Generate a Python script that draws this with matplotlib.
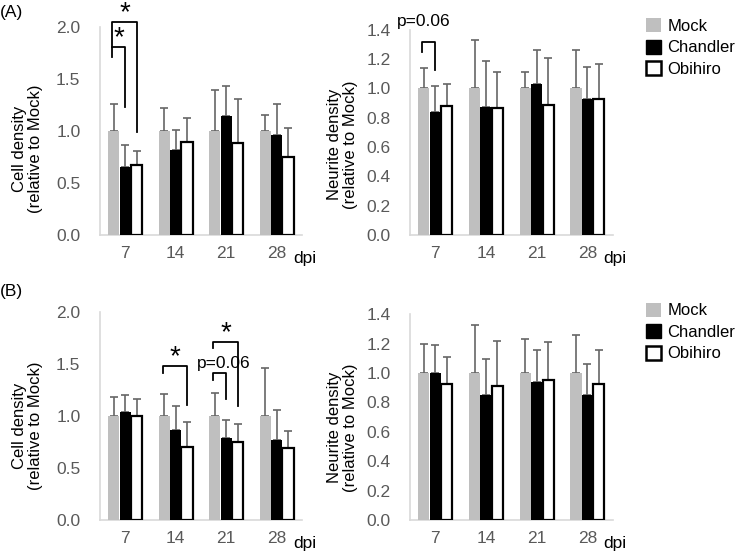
import numpy as np
import matplotlib.pyplot as plt
from matplotlib.patches import Patch

plt.rcParams['font.family'] = ['Liberation Sans', 'DejaVu Sans']

# datos
dpi_labels = ['7', '14', '21', '28']
groups = ['Mock', 'Chandler', 'Obihiro']

# (A) densidad celular
cellA_mean = [[1.0, 1.0, 1.0, 1.0],
              [0.65, 0.82, 1.14, 0.96],
              [0.67, 0.89, 0.885, 0.75]]
cellA_top = [[1.26, 1.22, 1.39, 1.15],
             [0.86, 1.01, 1.43, 1.26],
             [0.81, 1.12, 1.31, 1.03]]

# (A) densidad de neuritas
neurA_mean = [[1.0, 1.0, 1.0, 1.0],
              [0.84, 0.875, 1.03, 0.925],
              [0.88, 0.87, 0.885, 0.93]]
neurA_top = [[1.14, 1.33, 1.115, 1.26],
             [1.015, 1.19, 1.26, 1.15],
             [1.03, 1.115, 1.21, 1.17]]

# (B) densidad celular
cellB_mean = [[1.0, 1.0, 1.0, 1.0],
              [1.04, 0.86, 0.785, 0.77],
              [1.0, 0.70, 0.75, 0.69]]
cellB_top = [[1.18, 1.21, 1.22, 1.46],
             [1.20, 1.09, 0.96, 1.06],
             [1.16, 0.945, 0.92, 0.85]]

# (B) densidad de neuritas
neurB_mean = [[1.0, 1.0, 1.0, 1.0],
              [1.0, 0.85, 0.94, 0.85],
              [0.925, 0.91, 0.95, 0.925]]
neurB_top = [[1.20, 1.325, 1.23, 1.26],
             [1.19, 1.095, 1.155, 1.06],
             [1.11, 1.215, 1.21, 1.155]]

# corchetes: (grupo dpi, barra izq, barra der, y izq, y horiz, y der, texto)
bracketsA = [(0, 0, 1, 1.715, 1.81, 1.23, '*'),
             (0, 0, 2, 1.81, 2.05, 0.99, '*')]
bracketsA_neur = [(0, 0, 1, 1.25, 1.315, 1.125, 'p=0.06')]
bracketsB = [(1, 0, 2, 1.41, 1.48, 1.10, '*'),
             (2, 0, 1, 1.345, 1.41, 1.165, 'p=0.06'),
             (2, 0, 2, 1.65, 1.71, 1.095, '*')]

colors = ['#bfbfbf', 'black', 'white']
grey_txt = '#595959'
w = 0.22
off = 0.225
fs = 12.5


def draw_panel(ax, means, tops, ymax, step, ylabel):
    x = np.arange(len(dpi_labels))
    for i in range(3):
        m = np.array(means[i])
        t = np.array(tops[i])
        xs = x + (i - 1) * off
        if i == 2:
            ax.bar(xs, m, w, color='white', edgecolor='black', linewidth=1.6, zorder=3)
        else:
            ax.bar(xs, m, w, color=colors[i], linewidth=0, zorder=3)
        ax.errorbar(xs, m, yerr=[np.zeros_like(m), t - m], fmt='none',
                    ecolor='#666666', elinewidth=1.2, capsize=3.2, capthick=1.2, zorder=2)
    ax.set_xlim(-0.5, 3.5)
    ax.set_ylim(0, ymax)
    ax.set_yticks(np.arange(0, ymax + 1e-9, step))
    ax.set_yticklabels(['%.1f' % v for v in np.arange(0, ymax + 1e-9, step)])
    ax.set_xticks(x)
    ax.set_xticklabels(dpi_labels)
    ax.tick_params(axis='both', length=0, labelsize=fs, labelcolor=grey_txt)
    ax.tick_params(axis='y', pad=14)
    ax.tick_params(axis='x', pad=8)
    for s in ['top', 'right']:
        ax.spines[s].set_visible(False)
    for s in ['left', 'bottom']:
        ax.spines[s].set_color('#d9d9d9')
        ax.spines[s].set_linewidth(1.2)
    ax.set_ylabel(ylabel, fontsize=12, linespacing=1.1)
    ax.text(0.955, -0.115, 'dpi', transform=ax.transAxes, fontsize=fs,
            ha='left', va='center')


def draw_brackets(ax, brackets, star_size=20):
    for g, b1, b2, yl, yh, yr, txt in brackets:
        x1 = g + (b1 - 1) * off - 0.03
        x2 = g + (b2 - 1) * off
        ax.plot([x1, x1, x2, x2], [yl, yh, yh, yr], color='black', lw=1.3,
                clip_on=False, zorder=4)
        if txt == '*':
            ax.text((x1 + x2) / 2, yh - 0.04, '*', ha='center', va='bottom',
                    fontsize=star_size, clip_on=False)


fig = plt.figure(figsize=(7.4, 5.54), dpi=100)
axA1 = fig.add_axes([0.135, 0.576, 0.273, 0.3755])
axA2 = fig.add_axes([0.554, 0.576, 0.274, 0.370])
axB1 = fig.add_axes([0.135, 0.0614, 0.273, 0.376])
axB2 = fig.add_axes([0.554, 0.0614, 0.274, 0.3713])

cell_lbl = 'Cell density\n(relative to Mock)'
neur_lbl = 'Neurite density\n(relative to Mock)'
draw_panel(axA1, cellA_mean, cellA_top, 2.0, 0.5, cell_lbl)
draw_panel(axA2, neurA_mean, neurA_top, 1.4, 0.2, neur_lbl)
draw_panel(axB1, cellB_mean, cellB_top, 2.0, 0.5, cell_lbl)
draw_panel(axB2, neurB_mean, neurB_top, 1.4, 0.2, neur_lbl)

axA1.yaxis.set_label_coords(-0.28, 0.415)
axB1.yaxis.set_label_coords(-0.28, 0.45)
axA2.yaxis.set_label_coords(-0.257, 0.44)
axB2.yaxis.set_label_coords(-0.257, 0.45)

draw_brackets(axA1, bracketsA)
draw_brackets(axA2, bracketsA_neur)
draw_brackets(axB1, bracketsB)
axA2.text(-0.22, 1.46, 'p=0.06', ha='center', va='center', fontsize=fs, clip_on=False)
axB1.text(1.95, 1.50, 'p=0.06', ha='center', va='center', fontsize=fs, clip_on=False)

fig.text(0.0, 0.978, '(A)', fontsize=12.5, ha='left', va='center')
fig.text(0.0, 0.473, '(B)', fontsize=12.5, ha='left', va='center')

handles = [Patch(facecolor=colors[0], edgecolor='none'),
           Patch(facecolor='black', edgecolor='black'),
           Patch(facecolor='white', edgecolor='black', linewidth=1.8)]
for ytop in [0.973, 0.4596]:
    fig.legend(handles, groups, loc='upper left', bbox_to_anchor=(0.868, ytop),
               frameon=False, fontsize=12, handlelength=0.9, handleheight=0.9,
               handletextpad=0.4, labelspacing=0.35, borderaxespad=0, borderpad=0.2)

fig.savefig('out.png', dpi=100)
